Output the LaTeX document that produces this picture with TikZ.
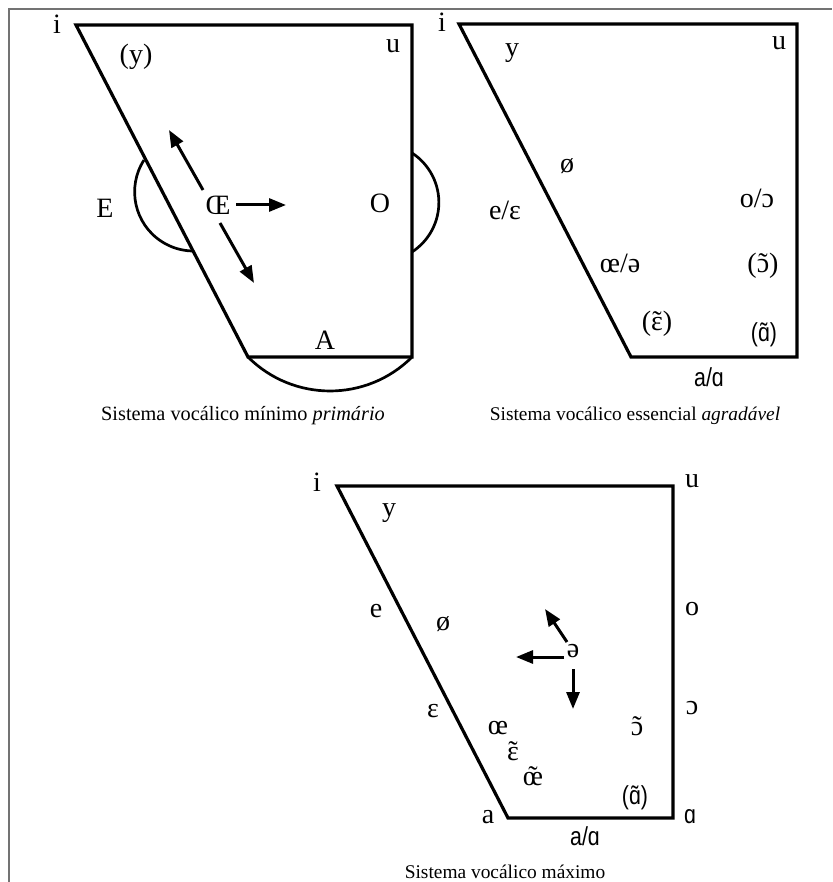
\documentclass[tikz,border=0pt]{standalone}
\usepackage{fontspec}
\setmainfont{Liberation Serif}
\newfontfamily\sansn[FakeStretch=0.82]{Liberation Sans}
\usetikzlibrary{arrows.meta}
\newcommand\tld[1]{\ooalign{#1\cr\hidewidth\char"02DC\hidewidth\cr}}
\begin{document}
\begin{tikzpicture}[x=1pt,y=-1pt,
  frameline/.style={draw=black!55,line width=1.6pt},
  quad/.style={line width=3.2pt,line join=miter},
  halo/.style={line width=2.7pt},
  arr/.style={line width=3pt,-{Triangle[length=17pt,width=13pt]}},
  lab/.style={font=\fontsize{28}{30}\selectfont,inner sep=0pt},
  slab/.style={font=\sansn\fontsize{26}{28}\selectfont,inner sep=0pt},
  captxt/.style={font=\fontsize{20.3}{23}\selectfont,inner sep=0pt},
  captxtb/.style={font=\fontsize{19.4}{22}\selectfont,inner sep=0pt},
  bigcaptxt/.style={font=\fontsize{19.4}{22}\selectfont,inner sep=0pt}]
\useasboundingbox (0,0) rectangle (832,882);
\fill[white] (0,0) rectangle (832,882);
\coordinate (f1) at (9,882); \coordinate (f2) at (9,9); \coordinate (f3) at (832,9);
\draw[frameline] (f1) -- (f2) -- (f3);

% ---------- top-left: minimal system ----------
\coordinate (A1) at (76,25); \coordinate (B1) at (412,25);
\coordinate (C1) at (412,357); \coordinate (D1) at (248,357);
\draw[quad] (A1) -- (B1) -- (C1) -- (D1) -- cycle;
\draw[halo] (144,160) arc[start angle=212.7,end angle=91.6,radius=59.1];
\draw[halo] (412,153) arc[start angle=-57,end angle=57,radius=59];
\draw[halo] (D1) arc[start angle=135,end angle=45,radius=116];
\node[lab] (tli) at (57,24) {i};
\node[lab] (tly) at (136,57) {(y)};
\node[lab] (tlu) at (393,46) {u};
\node[lab] (tlE) at (105,208) {E};
\node[lab] (tlOE) at (218,205) {Œ};
\node[lab] (tlO) at (380,203) {O};
\node[lab] (tlA) at (325,340) {A};
\coordinate (p1) at (236,205); \coordinate (q1) at (286,205);
\coordinate (p2) at (203,190); \coordinate (q2) at (169,130);
\coordinate (p3) at (220,223); \coordinate (q3) at (254,283);
\draw[arr] (p1) -- (q1);
\draw[arr] (p2) -- (q2);
\draw[arr] (p3) -- (q3);
\node[captxt] (cap1) at (243,416) {Sistema vocálico mínimo \textit{primário}};

% ---------- top-right: essential system ----------
\coordinate (A2) at (459,24); \coordinate (B2) at (797,24);
\coordinate (C2) at (797,357); \coordinate (D2) at (631,357);
\draw[quad] (A2) -- (B2) -- (C2) -- (D2) -- cycle;
\node[lab] (tri) at (442,22) {i};
\node[lab] (try) at (512,53) {y};
\node[lab] (tru) at (779,43) {u};
\node[lab] (troe) at (567,166) {ø};
\node[lab] (tre) at (505,210) {e/ɛ};
\node[lab] (tro) at (757,198) {o/ɔ};
\node[lab] (trschwa) at (620,263) {œ/ə};
\node[lab] (trot) at (763,266) {(\tld{ɔ})};
\node[lab] (tret) at (657,324) {(\tld{ɛ})};
\node[slab] (trat) at (764,335) {(ɑ̃)};
\node[slab] (traa) at (709,377) {a/ɑ};
\node[captxtb] (cap2) at (635,416) {Sistema vocálico essencial \textit{agradável}};

% ---------- bottom: maximal system ----------
\coordinate (A3) at (337,486); \coordinate (B3) at (673,486);
\coordinate (C3) at (673,818); \coordinate (D3) at (508,818);
\draw[quad] (A3) -- (B3) -- (C3) -- (D3) -- cycle;
\node[lab] (bi) at (317,482) {i};
\node[lab] (bu) at (692,481) {u};
\node[lab] (by) at (389,513) {y};
\node[lab] (be) at (376,611) {e};
\node[lab] (boe) at (443,624) {ø};
\node[lab] (bo) at (692,609) {o};
\node[lab] (bschwa) at (573,651) {ə};
\node[lab] (beps) at (433,711) {ɛ};
\node[lab] (bopen) at (692,708) {ɔ};
\node[lab] (boelig) at (498,728) {œ};
\node[lab] (bot) at (637,729) {\tld{ɔ}};
\node[lab] (bet) at (513,754) {\tld{ɛ}};
\node[lab] (boet) at (533,779) {\tld{œ}};
\node[slab] (bat) at (635,798) {(ɑ̃)};
\node[lab] (ba) at (488,817) {a};
\node[slab] (balpha) at (690,817) {ɑ};
\node[slab] (baa) at (585,836) {a/ɑ};
\coordinate (p4) at (567,642); \coordinate (q4) at (545,609);
\coordinate (p5) at (564,657); \coordinate (q5) at (516,657);
\coordinate (p6) at (573,669); \coordinate (q6) at (573,709);
\draw[arr] (p4) -- (q4);
\draw[arr] (p5) -- (q5);
\draw[arr] (p6) -- (q6);
\node[bigcaptxt] (cap3) at (505,872) {Sistema vocálico máximo};
\end{tikzpicture}
\end{document}
